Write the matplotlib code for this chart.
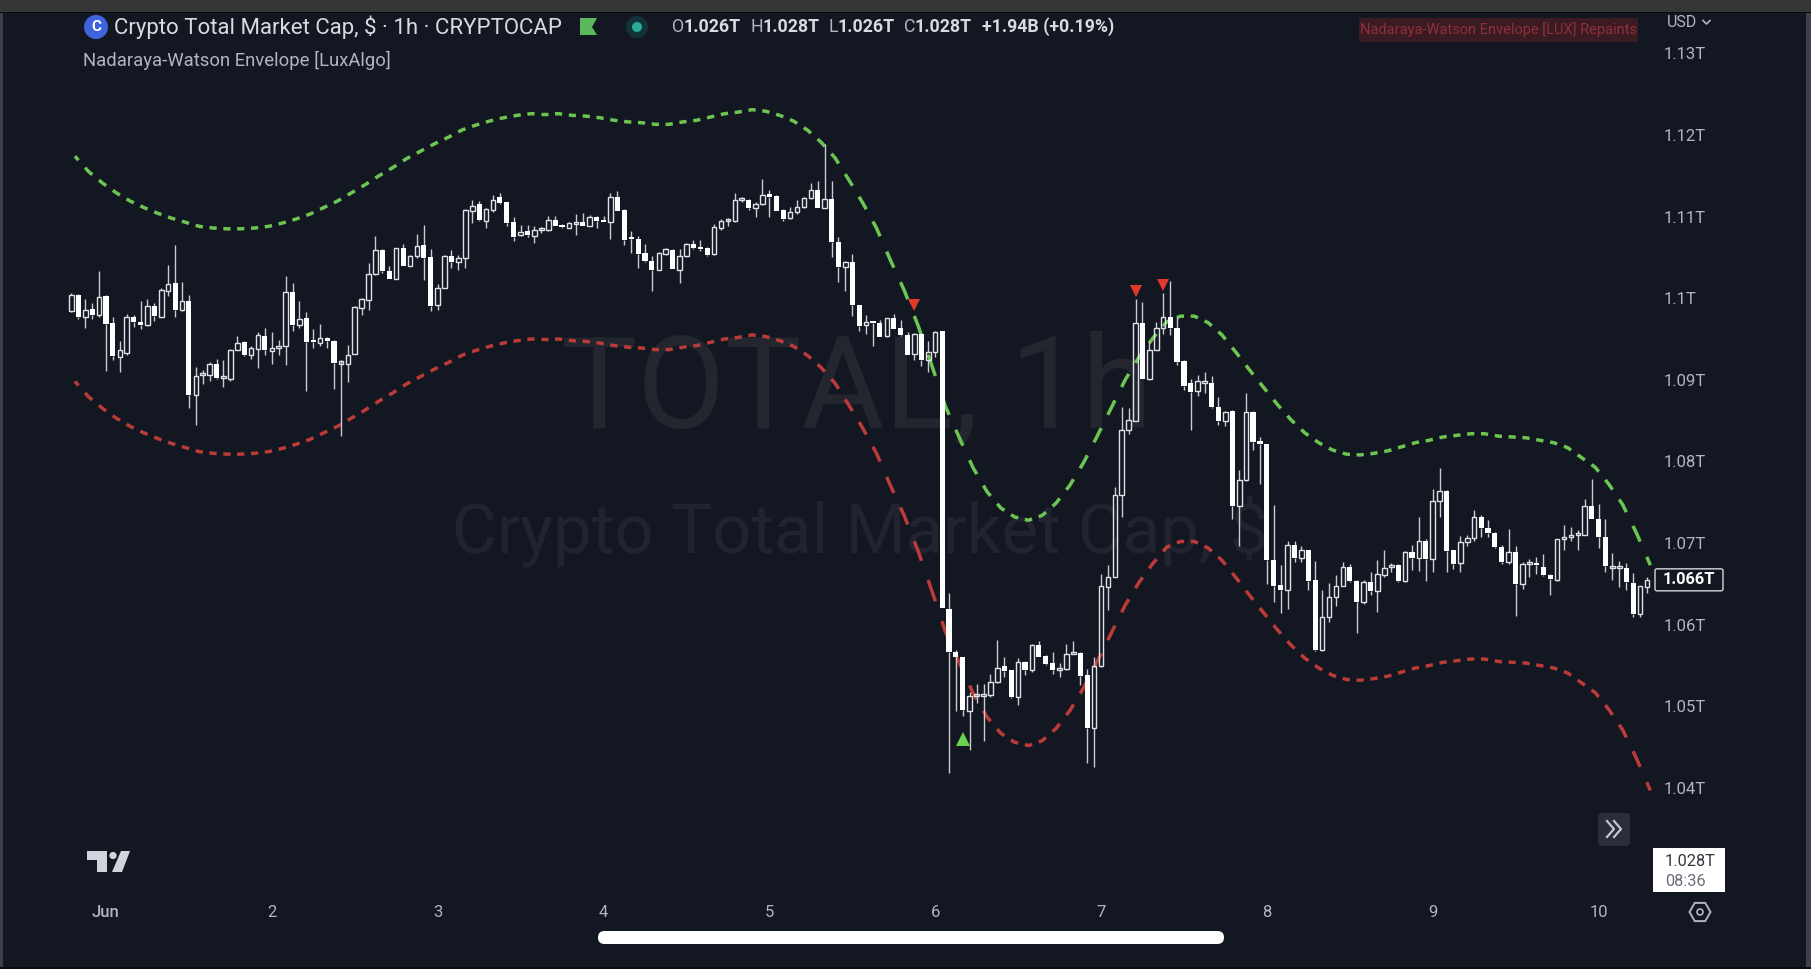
import numpy as np
import matplotlib
matplotlib.use("Agg")
import matplotlib.pyplot as plt
from matplotlib.collections import LineCollection
from matplotlib.patches import Rectangle, FancyBboxPatch, Circle, Polygon, RegularPolygon

plt.rcParams['font.family'] = ['Roboto', 'DejaVu Sans']

# ---- data: prices in billions of USD, one bar per hour (hour 0 = 1 June 00:00)
first_hour = -5
opens = [
 1098.4,1100.4,1097.7,1098.7,1097.9,1100.3,1097.0,1092.8,1093.3,1097.7,
 1097.1,1096.7,1099.1,1097.7,1100.9,1101.9,1098.5,1099.7,1088.1,1090.6,
 1090.6,1091.9,1090.2,1090.1,1093.7,1094.6,1093.0,1093.8,1095.4,1093.5,
 1093.9,1094.2,1100.8,1096.7,1097.6,1094.7,1094.5,1095.1,1094.8,1092.0,
 1092.0,1093.2,1098.8,1099.8,1103.0,1105.9,1103.3,1102.4,1106.1,1103.9,
 1105.2,1106.5,1105.0,1099.2,1101.3,1105.2,1104.4,1104.9,1110.7,1111.5,
 1109.5,1110.8,1112.4,1111.8,1109.3,1107.7,1108.2,1107.6,1108.3,1108.3,
 1109.6,1108.9,1108.6,1109.1,1109.3,1108.9,1110.0,1109.4,1109.3,1112.4,
 1110.8,1107.3,1107.3,1105.5,1104.6,1103.5,1105.4,1105.9,1103.5,1105.2,
 1106.7,1106.2,1106.1,1105.4,1108.6,1109.4,1109.4,1112.0,1112.0,1111.0,
 1111.5,1112.8,1112.5,1110.8,1109.8,1110.5,1111.2,1112.3,1113.2,1111.1,
 1112.2,1106.9,1103.8,1104.4,1099.2,1096.7,1097.1,1097.0,1095.4,1097.6,
 1096.3,1095.5,1093.2,1095.6,1092.4,1093.4,1096.0,1061.9,1056.7,1056.0,
 1049.4,1051.3,1051.3,1051.4,1053.0,1054.9,1054.4,1051.1,1055.4,1054.5,
 1057.5,1056.2,1055.3,1054.5,1054.6,1056.4,1056.5,1053.8,1047.3,1054.9,
 1064.6,1065.9,1075.9,1083.8,1085.0,1097.0,1090.1,1093.7,1096.4,1097.7,
 1096.4,1092.3,1089.6,1088.6,1089.6,1089.6,1086.7,1085.0,1086.2,1074.5,
 1077.7,1086.1,1082.4,1082.1,1067.9,1064.9,1064.2,1069.8,1068.2,1069.2,
 1065.5,1056.9,1061.0,1063.4,1064.8,1067.1,1065.4,1062.8,1065.2,1064.1,
 1066.1,1067.1,1067.3,1065.3,1068.9,1068.2,1070.2,1068.0,1075.2,1076.4,
 1069.1,1067.6,1070.1,1070.6,1073.2,1071.8,1071.2,1069.5,1067.7,1068.9,
 1065.0,1067.4,1067.6,1067.1,1066.1,1065.5,1070.5,1070.8,1071.0,1071.0,
 1074.6,1073.0,1070.7,1067.0,1066.9,1067.0,1065.1,1061.3,1064.6]
highs = [
 1100.6,1100.5,1099.9,1099.4,1103.3,1100.4,1097.7,1094.7,1098.1,1097.9,
 1099.7,1099.9,1099.4,1101.2,1104.1,1106.5,1102.0,1100.4,1091.6,1091.2,
 1092.2,1092.6,1092.4,1093.8,1095.4,1094.7,1094.2,1095.9,1096.3,1095.9,
 1094.9,1102.7,1101.9,1099.7,1098.3,1096.2,1096.8,1095.3,1094.9,1092.4,
 1094.3,1099.0,1100.0,1104.3,1107.6,1106.0,1104.0,1106.2,1106.6,1105.3,
 1107.9,1109.0,1106.0,1101.7,1105.3,1105.9,1105.3,1110.9,1112.0,1111.9,
 1111.0,1112.6,1112.9,1111.8,1110.0,1109.0,1109.0,1108.8,1108.7,1110.1,
 1110.1,1109.1,1109.3,1110.3,1110.4,1110.2,1110.1,1110.1,1112.9,1113.1,
 1110.9,1108.2,1107.6,1106.6,1105.2,1105.6,1106.1,1106.0,1106.0,1106.8,
 1107.1,1107.1,1106.3,1109.1,1109.7,1109.8,1112.9,1112.4,1112.2,1111.8,
 1114.6,1113.3,1112.7,1110.9,1111.2,1112.0,1112.4,1114.1,1114.3,1118.9,
 1114.3,1107.5,1104.5,1105.4,1099.2,1098.0,1097.2,1097.3,1097.6,1098.1,
 1097.3,1095.9,1095.7,1095.7,1094.7,1096.0,1096.0,1063.9,1056.9,1056.1,
 1051.8,1052.8,1052.8,1054.0,1058.1,1056.1,1054.5,1055.9,1055.5,1057.6,
 1058.0,1056.3,1056.7,1055.3,1057.6,1058.0,1056.6,1054.6,1056.0,1066.2,
 1067.3,1076.9,1086.7,1086.6,1099.9,1099.5,1094.8,1097.1,1100.6,1102.1,
 1097.7,1092.4,1090.1,1090.6,1090.9,1090.5,1087.9,1086.2,1086.3,1078.9,
 1088.4,1086.2,1083.0,1082.2,1074.7,1067.3,1070.2,1070.3,1069.7,1069.2,
 1067.8,1064.2,1065.1,1066.1,1067.7,1067.5,1065.5,1065.5,1066.5,1067.9,
 1069.1,1067.6,1067.4,1069.0,1069.8,1073.2,1070.5,1076.6,1079.2,1076.5,
 1069.2,1070.9,1071.0,1074.0,1073.5,1072.8,1071.3,1069.8,1071.7,1069.6,
 1067.7,1068.1,1068.3,1068.7,1066.2,1070.5,1072.2,1072.0,1071.6,1075.4,
 1077.9,1074.8,1073.0,1068.8,1067.8,1067.6,1066.3,1064.8,1065.9]
lows = [
 1098.3,1097.5,1096.3,1097.5,1097.7,1091.1,1092.4,1091.0,1093.0,1096.5,
 1096.2,1096.6,1097.2,1097.7,1100.3,1097.7,1098.4,1086.5,1084.5,1089.5,
 1089.9,1090.1,1089.1,1089.8,1093.6,1092.9,1092.5,1091.4,1093.0,1092.0,
 1093.0,1091.8,1096.0,1096.4,1088.6,1093.9,1094.1,1093.9,1088.9,1083.1,
 1089.7,1093.2,1097.9,1098.5,1102.8,1103.1,1102.3,1102.3,1103.9,1103.9,
 1104.9,1102.2,1098.4,1098.6,1101.2,1103.7,1103.5,1103.7,1109.2,1109.5,
 1108.6,1110.6,1111.5,1108.9,1107.0,1107.6,1107.5,1106.8,1108.0,1108.2,
 1108.8,1108.6,1108.6,1107.8,1108.8,1108.8,1108.6,1109.3,1107.2,1110.7,
 1106.5,1105.5,1103.7,1104.4,1100.9,1103.4,1105.3,1103.6,1101.9,1105.1,
 1106.0,1105.8,1105.2,1105.3,1108.4,1108.9,1109.3,1111.8,1110.8,1110.0,
 1111.4,1109.9,1110.7,1109.5,1109.7,1110.3,1111.1,1112.2,1111.1,1111.0,
 1105.0,1102.0,1100.9,1097.8,1096.0,1095.6,1094.2,1095.2,1095.2,1096.2,
 1095.4,1093.0,1092.4,1091.7,1090.9,1092.8,1062.0,1041.8,1049.4,1048.8,
 1044.7,1050.4,1045.8,1051.1,1052.9,1053.6,1051.0,1050.2,1053.9,1054.2,
 1056.0,1055.1,1054.0,1053.6,1054.5,1056.4,1052.6,1043.1,1042.6,1054.8,
 1061.8,1065.8,1073.2,1083.4,1084.9,1090.1,1090.0,1093.6,1095.6,1095.5,
 1091.8,1088.7,1083.8,1088.0,1088.4,1086.6,1084.5,1084.3,1073.0,1069.6,
 1077.6,1081.4,1077.3,1065.0,1062.8,1061.4,1061.9,1067.7,1067.7,1064.2,
 1056.8,1056.8,1060.3,1062.3,1064.7,1065.2,1059.0,1062.6,1063.7,1061.5,
 1065.9,1066.5,1065.2,1065.2,1066.7,1066.6,1065.4,1066.5,1073.2,1066.5,
 1066.8,1066.5,1069.6,1070.2,1070.7,1070.7,1069.4,1067.4,1067.4,1061.1,
 1064.4,1065.9,1066.2,1066.0,1063.6,1065.4,1069.2,1070.3,1069.2,1071.0,
 1072.9,1069.4,1066.5,1065.5,1064.6,1064.2,1061.0,1061.0,1063.9]
closes = [
 1100.4,1097.7,1098.6,1097.9,1100.2,1096.9,1092.9,1093.6,1097.7,1097.1,
 1096.7,1099.1,1097.8,1101.0,1101.8,1098.5,1099.7,1088.1,1090.5,1090.7,
 1091.9,1090.2,1090.3,1093.7,1094.5,1093.0,1093.9,1095.5,1093.7,1093.9,
 1094.2,1100.8,1096.7,1097.5,1094.6,1094.6,1095.1,1094.8,1092.1,1092.0,
 1093.1,1098.9,1099.9,1103.0,1105.9,1103.3,1102.4,1106.1,1103.9,1105.2,
 1106.4,1104.9,1099.0,1101.3,1105.2,1104.4,1104.9,1110.8,1111.3,1109.6,
 1110.9,1112.0,1111.7,1109.2,1107.5,1108.1,1107.7,1108.4,1108.4,1109.6,
 1108.9,1108.7,1109.2,1109.2,1108.9,1110.0,1109.4,1109.3,1112.4,1110.7,
 1107.1,1107.2,1105.4,1104.5,1103.5,1105.5,1106.0,1103.6,1105.2,1106.7,
 1106.2,1106.0,1105.3,1108.7,1109.4,1109.5,1112.0,1112.1,1111.0,1111.5,
 1112.7,1112.4,1110.7,1109.7,1110.5,1111.2,1112.3,1113.3,1111.1,1112.2,
 1106.9,1103.8,1104.4,1099.2,1096.6,1097.1,1097.0,1095.3,1097.6,1096.2,
 1095.5,1093.1,1095.6,1092.4,1093.4,1095.8,1062.1,1056.7,1056.0,1049.5,
 1051.3,1051.3,1051.4,1053.0,1054.7,1054.3,1051.1,1055.4,1054.5,1057.5,
 1056.1,1055.2,1054.4,1054.6,1056.4,1056.5,1053.7,1047.3,1054.9,1064.7,
 1065.9,1075.9,1083.8,1085.1,1097.0,1090.1,1093.7,1096.4,1097.7,1096.4,
 1092.2,1089.3,1088.5,1089.8,1089.8,1086.7,1085.0,1086.1,1074.5,1077.7,
 1086.0,1082.4,1082.2,1067.9,1064.8,1064.3,1069.8,1068.2,1069.1,1065.3,
 1056.9,1061.0,1063.4,1064.8,1067.1,1065.3,1062.8,1065.2,1064.1,1066.2,
 1067.0,1067.2,1065.4,1068.9,1068.2,1070.2,1068.0,1075.2,1076.4,1069.0,
 1067.5,1070.1,1070.6,1073.2,1071.8,1071.2,1069.5,1067.7,1068.9,1065.0,
 1067.4,1067.5,1067.3,1066.1,1065.6,1070.5,1070.8,1071.0,1071.1,1074.6,
 1073.0,1070.7,1067.2,1067.0,1067.1,1065.2,1061.3,1064.7,1065.5]

# envelope readings, every second hour starting at hour -4.5
env_first_hour = -4.5
env_step = 2
env_upper = [
 1117.4,1115.5,1114.1,1112.9,1111.9,1111.1,1110.4,1109.8,1109.3,1108.8,
 1108.6,1108.5,1108.5,1108.6,1108.8,1109.2,1109.7,1110.3,1111.1,1111.9,
 1112.9,1113.9,1115.0,1116.0,1117.1,1118.0,1118.9,1119.7,1120.6,1121.2,
 1121.7,1122.1,1122.4,1122.6,1122.6,1122.6,1122.4,1122.3,1122.1,1121.8,
 1121.6,1121.5,1121.3,1121.3,1121.6,1121.8,1122.2,1122.6,1122.8,1123.1,
 1122.9,1122.4,1121.7,1120.6,1119.1,1117.2,1114.5,1111.7,1108.6,1104.7,
 1101.0,1096.7,1091.8,1086.7,1082.9,1079.2,1076.3,1074.3,1073.2,1072.8,
 1073.4,1074.9,1077.1,1079.9,1083.2,1086.6,1090.0,1092.8,1095.1,1097.1,
 1097.8,1097.8,1097.0,1095.5,1093.4,1091.2,1089.1,1087.0,1085.1,1083.5,
 1082.3,1081.4,1080.9,1080.8,1081.0,1081.3,1081.8,1082.3,1082.6,1083.0,
 1083.2,1083.4,1083.4,1083.1,1083.0,1082.9,1082.6,1082.3,1081.7,1080.5,
 1079.3,1077.2,1074.7,1071.2,1067.3]
env_lower = [
 1089.8,1087.9,1086.5,1085.3,1084.3,1083.5,1082.8,1082.2,1081.7,1081.2,
 1081.0,1080.9,1080.9,1081.0,1081.2,1081.6,1082.1,1082.7,1083.5,1084.3,
 1085.3,1086.3,1087.4,1088.4,1089.5,1090.4,1091.3,1092.1,1093.0,1093.6,
 1094.1,1094.5,1094.8,1095.0,1095.0,1095.0,1094.8,1094.7,1094.5,1094.2,
 1094.0,1093.9,1093.7,1093.7,1094.0,1094.2,1094.6,1095.0,1095.2,1095.5,
 1095.3,1094.8,1094.1,1093.0,1091.5,1089.6,1086.9,1084.1,1081.0,1077.1,
 1073.4,1069.1,1064.2,1059.1,1055.3,1051.6,1048.7,1046.7,1045.6,1045.2,
 1045.8,1047.3,1049.5,1052.3,1055.6,1059.0,1062.4,1065.2,1067.5,1069.5,
 1070.2,1070.2,1069.4,1067.9,1065.8,1063.6,1061.5,1059.4,1057.5,1055.9,
 1054.7,1053.8,1053.3,1053.2,1053.4,1053.7,1054.2,1054.7,1055.0,1055.4,
 1055.6,1055.8,1055.8,1055.5,1055.4,1055.3,1055.0,1054.7,1054.1,1052.9,
 1051.7,1049.6,1047.1,1043.6,1039.7]

sell_hours = [117, 149, 153]
sell_prices = [1099.2, 1100.9, 1101.6]
buy_hours = [124]
buy_prices = [1046.0]

y_ticks = [1040, 1050, 1060, 1070, 1080, 1090, 1100, 1110, 1120, 1130]
y_labels = ['1.04T', '1.05T', '1.06T', '1.07T', '1.08T', '1.09T', '1.1T', '1.11T', '1.12T', '1.13T']
x_ticks = [0, 24, 48, 72, 96, 120, 144, 168, 192, 216]
x_labels = ['Jun', '2', '3', '4', '5', '6', '7', '8', '9', '10']
last_price = 1065.5

# ---- style
BG = '#131722'
TXT = '#b2b5be'
W, H = 1811, 969
fig = plt.figure(figsize=(W / 100, H / 100), dpi=100, facecolor=BG)

# chart pane: pixel box x 0..1655, y 0..880 (from top)
ax = fig.add_axes([0, 1 - 880 / H, 1655 / W, 880 / H], facecolor=BG)
ax.set_xlim(-15.34, 224.17)
ax.set_ylim(1028.73, 1136.53)
for s in ax.spines.values():
    s.set_visible(False)
ax.yaxis.tick_right()
ax.set_yticks(y_ticks, y_labels)
ax.set_xticks(x_ticks, x_labels)
ax.tick_params(axis='y', length=0, pad=6.5, labelsize=12, labelcolor=TXT)
ax.tick_params(axis='x', length=0, pad=18, labelsize=12, labelcolor=TXT)
for lab in ax.get_yticklabels():
    lab.set_ha('left')
ax.get_xticklabels()[0].set_fontweight('medium')

# watermarks
ax.text(0.5178, 1 - 393 / 880, 'TOTAL, 1h', transform=ax.transAxes, ha='center', va='center',
        fontsize=92, color='#23262f', zorder=1)
ax.text(0.5196, 1 - 531 / 880, 'Crypto Total Market Cap, $', transform=ax.transAxes, ha='center', va='center',
        fontsize=49.7, color='#21242e', zorder=1)

# envelope: each reading is one dash
env_x = env_first_hour + env_step * np.arange(len(env_upper))
def dashes(vals):
    segs = []
    for t in env_x:
        xs = np.linspace(max(t - 0.52, env_x[0]), min(t + 0.52, env_x[-1]), 5)
        segs.append(np.column_stack([xs, np.interp(xs, env_x, vals)]))
    return segs
ax.add_collection(LineCollection(dashes(env_upper), colors='#6cc552', linewidths=2.5, capstyle='butt', zorder=2))
ax.add_collection(LineCollection(dashes(env_lower), colors='#bb3b38', linewidths=2.5, capstyle='butt', zorder=2))

# candles
hours = first_hour + np.arange(len(opens))
o, h, l, c = map(np.array, (opens, highs, lows, closes))
top, bot = np.maximum(o, c), np.minimum(o, c)
up = c >= o
ax.vlines(hours, top, h, color='#c9cbd0', lw=1.0, zorder=3)
ax.vlines(hours, l, bot, color='#c9cbd0', lw=1.0, zorder=3)
height = np.maximum(top - bot, 0.25)
ax.bar(hours[~up], height[~up], bottom=bot[~up], width=0.74, color='white', linewidth=0, zorder=4)
ax.bar(hours[up], height[up], bottom=bot[up], width=0.66, facecolor='none', edgecolor='#dfe1e5', linewidth=1.0, zorder=4)

# signals
ax.plot(sell_hours, sell_prices, ls='none', marker='v', ms=8.5, color='#e03a2a', mew=0, zorder=5)
ax.plot(buy_hours, buy_prices, ls='none', marker='^', ms=10, color='#6cd352', mew=0, zorder=5)

# chrome overlay in pixel coordinates
ov = fig.add_axes([0, 0, 1, 1], facecolor='none')
ov.set_xlim(0, W)
ov.set_ylim(H, 0)
ov.axis('off')
ov.add_patch(Rectangle((0, 0), W, 12, color='#343536', lw=0))
ov.add_patch(Rectangle((0, 12), W, 1.2, color='#0a0a0a', lw=0))
ov.add_patch(Rectangle((0, 13), 3, H, color='#3b404b', lw=0))
ov.add_patch(Rectangle((W - 5, 13), 5, H, color='#3b404b', lw=0))
ov.add_patch(Rectangle((0, H - 2), W, 2, color='#0a0a0a', lw=0))

# header
ov.add_patch(Circle((96, 27), 12, color='#3d63dd', lw=0))
ov.text(96, 27, 'C', color='white', fontsize=11, fontweight='bold', ha='center', va='center')
ov.text(114, 27, 'Crypto Total Market Cap, $ · 1h · CRYPTOCAP', color='#d8dae0', fontsize=16, va='center')
ov.add_patch(Polygon([(580, 18), (597, 18), (592, 27), (597, 35), (580, 35)], color='#5cb85c', lw=0))
ov.add_patch(Circle((637, 27), 11, color='#12323a', lw=0))
ov.add_patch(Circle((637, 27), 5, color='#2bab96', lw=0))
for xpos, letter, val in [(672, 'O', '1.026T'), (751, 'H', '1.028T'), (828, 'L', '1.026T'), (904, 'C', '1.028T')]:
    ov.text(xpos, 27, letter, color=TXT, fontsize=12.8, va='center')
    ov.text(xpos + {'O': 11.5, 'H': 11.5, 'L': 9.5, 'C': 10.5}[letter], 27, val, color='#d8dae0', fontsize=12.8,
            fontweight='bold', va='center')
ov.text(982, 27, '+1.94B (+0.19%)', color='#d8dae0', fontsize=12.8, fontweight='bold', va='center')
ov.text(83, 60, 'Nadaraya-Watson Envelope [LuxAlgo]', color=TXT, fontsize=13.3, va='center')

# repaint warning
ov.add_patch(Rectangle((1359, 18), 279, 24, color='#3a1b22', lw=0))
ov.text(1498, 30, 'Nadaraya-Watson Envelope [LUX] Repaints', color='#8f2f38', fontsize=10.5, ha='center', va='center')

# currency
ov.text(1667, 22, 'USD', color=TXT, fontsize=11.5, va='center')
ov.plot([1703, 1706.5, 1710], [20.5, 24, 20.5], color=TXT, lw=1.2)

# last-price label
ly = H - ax.transData.transform((0, last_price))[1]
ov.add_patch(FancyBboxPatch((1655, ly - 11), 68, 22, boxstyle='round,pad=0,rounding_size=2',
                            fc=BG, ec='#d5d7dc', lw=1.0))
ov.text(1689, ly, '1.066T', color='white', fontsize=11.8, fontweight='bold', ha='center', va='center')

# countdown box
ov.add_patch(Rectangle((1653, 848), 72, 44, color='white', lw=0))
ov.text(1665, 861, '1.028T', color='#333740', fontsize=11.8, va='center')
ov.text(1665, 881, '08:36', color='#6a6d78', fontsize=11.8, va='center')

# scroll button
ov.add_patch(FancyBboxPatch((1598, 813), 32, 33, boxstyle='round,pad=0,rounding_size=4', fc='#2a2e39', ec='none'))
for dx in (0, 7):
    ov.plot([1607 + dx, 1614 + dx, 1607 + dx], [821, 829, 837], color='#c3c6ce', lw=1.6)

# settings icon
ov.add_patch(RegularPolygon((1700, 912), 6, radius=10.5, orientation=np.pi / 2, fc='none', ec='#b2b5be', lw=1.4))
ov.add_patch(Circle((1700, 912), 3, fc='none', ec='#b2b5be', lw=1.2))

# TradingView logo
LOGO = '#d1d4dc'
ov.add_patch(Polygon([(87, 851), (107, 851), (107, 872), (97, 872), (97, 860), (87, 860)], color=LOGO, lw=0))
ov.add_patch(Circle((113, 855.5), 3.6, color=LOGO, lw=0))
ov.add_patch(Polygon([(121, 851), (130, 851), (122, 872), (112, 872)], color=LOGO, lw=0))

# scroll pill
ov.add_patch(FancyBboxPatch((598, 931), 626, 13, boxstyle='round,pad=0,rounding_size=6.5', fc='white', ec='none'))

fig.savefig('out.png', dpi=100, facecolor=BG)
